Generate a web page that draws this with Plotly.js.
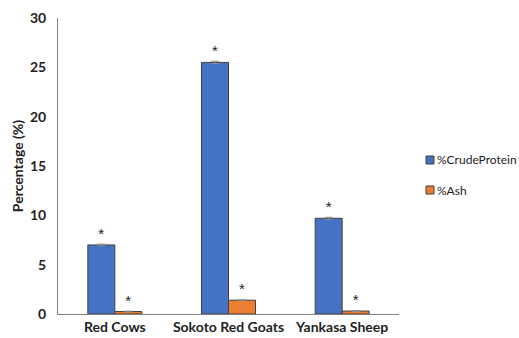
<!DOCTYPE html>
<html>
<head>
<meta charset="utf-8">
<script src="https://cdn.plot.ly/plotly-3.0.1.min.js"></script>
<style>
  html, body { margin: 0; padding: 0; background: #fff; }
  #chart { width: 519px; height: 338px; }
</style>
</head>
<body>
<div id="chart"></div>
<script>
// Animal groups on the x axis
const categories = ["Red Cows", "Sokoto Red Goats", "Yankasa Sheep"];

// Series names and colours
const seriesNames = ["%CrudeProtein", "%Ash"];
const seriesColors = ["#4472C4", "#ED7D31"];

// Mean composition values (%)
const crudeProtein = [7.0, 25.5, 9.7];
const ash = [0.25, 1.4, 0.3];

// Standard errors
const crudeProteinErr = [0.08, 0.12, 0.1];
const ashErr = [0.04, 0.05, 0.04];

// Significance markers shown over each bar
const crudeProteinMarks = ["*", "*", "*"];
const ashMarks = ["*", "*", "*"];

const fontFamily = "Lato, 'Open Sans', 'Liberation Sans', sans-serif";

function barTrace(name, values, errs, marks, color) {
  return {
    type: "bar",
    name: name,
    x: categories,
    y: values,
    marker: { color: color, line: { color: "#404040", width: 1 } },
    error_y: { type: "data", array: errs, visible: true, color: "#8c8c8c", thickness: 1, width: 4 },
    text: marks,
    texttemplate: "%{text}",
    textposition: "outside",
    cliponaxis: false,
    textfont: { family: "'Liberation Sans', sans-serif", size: 15, color: "#222" },
    hoverinfo: "x+y+name"
  };
}

const data = [
  barTrace(seriesNames[0], crudeProtein, crudeProteinErr, crudeProteinMarks, seriesColors[0]),
  barTrace(seriesNames[1], ash, ashErr, ashMarks, seriesColors[1])
];

// Compact legend to the right of the plot: small square swatch + label
const legendTop = [0.5338, 0.4324];   // paper y of each swatch's top edge
const swatchH = 0.027;
const shapes = [];
const annotations = [];
seriesNames.forEach((name, i) => {
  shapes.push({
    type: "rect", xref: "paper", yref: "paper",
    x0: 1.0792, x1: 1.1026, y0: legendTop[i] - swatchH, y1: legendTop[i],
    fillcolor: seriesColors[i], line: { color: "#404040", width: 1 }
  });
  annotations.push({
    xref: "paper", yref: "paper",
    x: 1.106, y: legendTop[i] - swatchH / 2,
    xanchor: "left", yanchor: "middle",
    text: name, showarrow: false,
    font: { family: fontFamily, size: 12, color: "#222" }
  });
});

const layout = {
  width: 519,
  height: 338,
  margin: { l: 58, r: 120, t: 18, b: 24, autoexpand: false },
  paper_bgcolor: "#ffffff",
  plot_bgcolor: "#ffffff",
  barmode: "group",
  bargap: 0.525,
  bargroupgap: 0,
  showlegend: false,
  font: { family: fontFamily, color: "#222" },
  xaxis: {
    type: "category",
    showline: true,
    linecolor: "#808080",
    linewidth: 1,
    ticks: "",
    showgrid: false,
    tickfont: { family: fontFamily, size: 14, color: "#222", weight: "bold" }
  },
  yaxis: {
    range: [0, 30],
    dtick: 5,
    showline: true,
    linecolor: "#808080",
    linewidth: 1,
    ticks: "",
    showgrid: false,
    zeroline: false,
    ticklabelstandoff: 8,
    tickfont: { family: fontFamily, size: 14, color: "#222", weight: "bold" },
    title: {
      text: "Percentage (%)",
      font: { family: fontFamily, size: 14, color: "#222", weight: "bold" },
      standoff: 3
    }
  },
  shapes: shapes,
  annotations: annotations
};

Plotly.newPlot("chart", data, layout, { displayModeBar: false, staticPlot: true });
</script>
</body>
</html>
